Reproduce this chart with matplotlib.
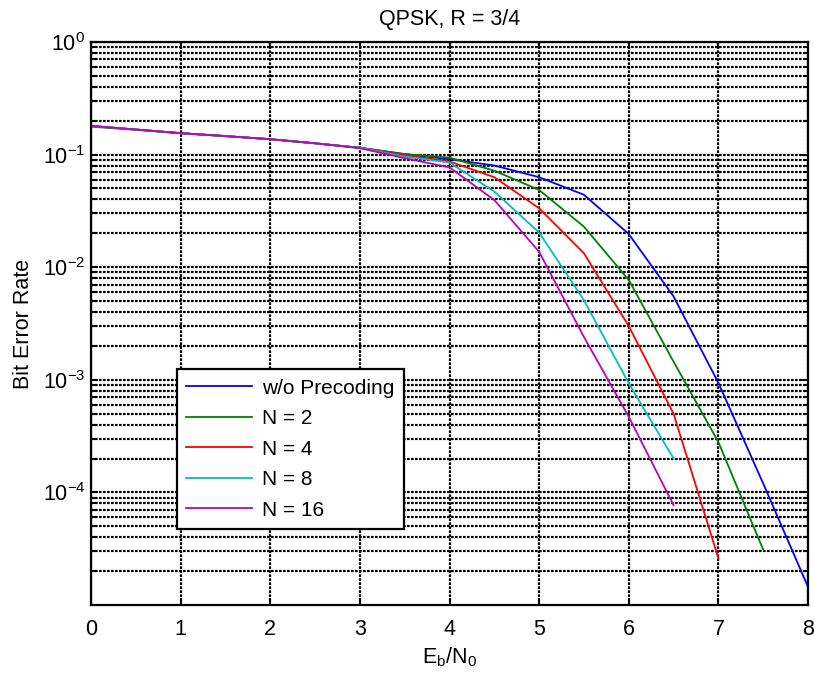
import numpy as np
import matplotlib
matplotlib.use("Agg")
import matplotlib.pyplot as plt
from matplotlib.ticker import LogLocator, NullFormatter, FixedLocator

matplotlib.rcParams.update({
    "font.family": ["Liberation Sans", "DejaVu Sans"],
    "mathtext.fontset": "custom",
    "mathtext.rm": "Liberation Sans",
    "mathtext.it": "Liberation Sans:italic",
    "axes.unicode_minus": False,
    "font.size": 15,
})

# Eb/N0 points (dB)
ebn0 = [0, 0.5, 1, 1.5, 2, 2.5, 3, 3.5, 4, 4.5, 5, 5.5, 6, 6.5, 7, 7.5, 8]

ber_none = [0.180, 0.167, 0.155, 0.146, 0.137, 0.126, 0.115, 0.101, 0.091, 0.080,
            0.063, 0.044, 0.0197, 0.0055, 9.4e-4, 1.2e-4, 1.45e-5]
ber_n2 = [0.177, 0.166, 0.155, 0.146, 0.137, 0.126, 0.115, 0.101, 0.094, 0.072,
          0.0485, 0.0229, 0.0077, 1.45e-3, 2.8e-4, 3.1e-5]
ber_n4 = [0.179, 0.167, 0.155, 0.146, 0.137, 0.126, 0.115, 0.099, 0.087, 0.063,
          0.0334, 0.0133, 0.0030, 5.0e-4, 2.6e-5]
ber_n8 = [0.179, 0.167, 0.155, 0.146, 0.137, 0.126, 0.115, 0.096, 0.085, 0.047,
          0.0203, 0.0051, 9.3e-4, 2.0e-4]
ber_n16 = [0.180, 0.167, 0.155, 0.146, 0.137, 0.126, 0.114, 0.093, 0.077, 0.0395,
           0.0137, 0.0024, 4.7e-4, 7.7e-5]

series = [
    ("w/o Precoding", ber_none, (0, 0, 1)),
    ("N = 2", ber_n2, (0, 0.5, 0)),
    ("N = 4", ber_n4, (1, 0, 0)),
    ("N = 8", ber_n8, (0, 0.75, 0.75)),
    ("N = 16", ber_n16, (0.75, 0, 0.75)),
]

fig = plt.figure(figsize=(8.14, 6.77), dpi=100)
ax = fig.add_axes([91 / 814, 1 - 605 / 677, 717 / 814, 563 / 677])

for label, ber, color in series:
    ax.semilogy(ebn0[:len(ber)], ber, color=color, linewidth=1.3, label=label)

ax.set_xlim(0, 8)
ax.set_ylim(1e-5, 1)
ax.set_xticks(range(0, 9))
ax.yaxis.set_major_locator(FixedLocator([1e-4, 1e-3, 1e-2, 1e-1, 1e0]))
ax.yaxis.set_minor_locator(LogLocator(base=10, subs=np.arange(2, 10), numticks=20))
ax.yaxis.set_minor_formatter(NullFormatter())

grid_style = dict(color="black", linestyle=(0, (1.2, 0.6)), linewidth=1.6)
ax.grid(True, which="major", axis="both", **grid_style)
ax.grid(True, which="minor", axis="y", **grid_style)

ax.tick_params(which="both", direction="in", top=True, right=True, labelsize=15.5)
ax.tick_params(which="major", length=5, width=1.4)
ax.tick_params(which="minor", length=3, width=1.4)
ax.tick_params(axis="x", which="major", pad=10)
ax.tick_params(axis="y", which="major", pad=4)
for sp in ax.spines.values():
    sp.set_linewidth(1.6)

ax.set_title("QPSK, R = 3/4", fontsize=15.5, pad=12)
ax.set_xlabel(r"E$_\mathregular{b}$/N$_\mathregular{0}$", fontsize=15.5, labelpad=4)
ax.set_ylabel("Bit Error Rate", fontsize=15.5)
ax.yaxis.set_label_coords(-0.08, 0.5)

leg = ax.legend(loc="lower left", bbox_to_anchor=(0.12, 0.135), borderaxespad=0,
                fontsize=15, fancybox=False, framealpha=1, edgecolor="black",
                handlelength=3.15, handletextpad=0.5, labelspacing=0.55,
                borderpad=0.45)
leg.get_frame().set_linewidth(1.6)

fig.savefig("out.png", dpi=100, facecolor="white")
